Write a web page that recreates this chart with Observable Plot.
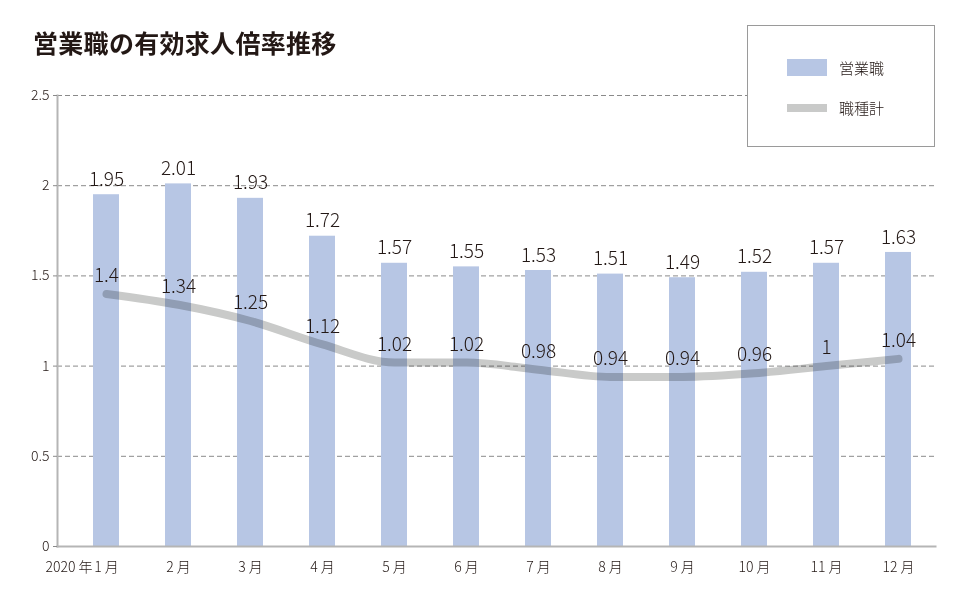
<!DOCTYPE html>
<html>
<head>
<meta charset="utf-8">
<script src="https://cdn.jsdelivr.net/npm/d3@7"></script>
<script src="https://cdn.jsdelivr.net/npm/@observablehq/plot@0.6"></script>
<style>
  html, body { margin: 0; padding: 0; background: #fff; }
  body { width: 960px; height: 600px; position: relative; overflow: hidden;
         font-family: "Noto Sans CJK JP", "Noto Sans", sans-serif; }
  #title { position: absolute; left: 33px; top: 26px; font-size: 25px; font-weight: 700;
           color: #231815; letter-spacing: 0.3px; line-height: 32px; }
  #legend { position: absolute; left: 747px; top: 25px; width: 188px; height: 122px;
            border: 1px solid #9a9a9a; background: #fff; box-sizing: border-box; }
  .sw { position: absolute; left: 39px; width: 40px; }
  .lt { position: absolute; left: 91px; font-size: 15px; color: #231815; line-height: 20px; font-weight: 300; }
  #chart { position: absolute; left: 0; top: 0; }
</style>
</head>
<body>
<div id="chart"></div>
<div id="title">営業職の有効求人倍率推移</div>
<div id="legend">
  <div class="sw" style="top:33px;height:17px;background:#b7c6e4;"></div>
  <div class="lt" style="top:32px;">営業職</div>
  <div class="sw" style="top:78px;height:8px;background:#c9cac9;"></div>
  <div class="lt" style="top:72px;">職種計</div>
</div>
<script>
const months = ["1月","2月","3月","4月","5月","6月","7月","8月","9月","10月","11月","12月"];
const monthLabels = ["1 月","2 月","3 月","4 月","5 月","6 月","7 月","8 月","9 月","10 月","11 月","12 月"];
const salesValues = [1.95, 2.01, 1.93, 1.72, 1.57, 1.55, 1.53, 1.51, 1.49, 1.52, 1.57, 1.63];
const allJobsValues = [1.4, 1.34, 1.25, 1.12, 1.02, 1.02, 0.98, 0.94, 0.94, 0.96, 1, 1.04];
const yTicks = [0, 0.5, 1, 1.5, 2, 2.5];
const yearLabel = "2020 年";

const sales = months.map((m, i) => ({month: m, value: salesValues[i]}));
const allJobs = months.map((m, i) => ({month: m, value: allJobsValues[i]}));
const xlabels = months.map((m, i) => ({month: m, label: monthLabels[i]}));

const fmt = d => String(d);
const font = "'Noto Sans CJK JP', 'Noto Sans', sans-serif";

const chart = Plot.plot({
  width: 960,
  height: 600,
  marginLeft: 57,
  marginRight: 25,
  marginTop: 95,
  marginBottom: 54,
  style: {fontFamily: font, background: "transparent", overflow: "visible"},
  x: {domain: months, range: [70, 934], paddingInner: 0.64, paddingOuter: 0.32, axis: null},
  y: {domain: [0, 2.5], axis: null},
  marks: [
    Plot.ruleY(yTicks.filter(d => d > 0), {stroke: "#8a8a8a", strokeWidth: 1, strokeDasharray: "5,3"}),
    Plot.barY(sales, {x: "month", y: "value", fill: "#b7c6e4"}),
    Plot.line(allJobs, {x: "month", y: "value", stroke: "#c9cac9", strokeWidth: 8,
      curve: "monotone-x", mixBlendMode: "multiply"}),
    Plot.text(sales, {x: "month", y: "value", text: d => fmt(d.value), dy: -15,
      fontSize: 19, fontWeight: 300, fill: "#231815"}),
    Plot.text(allJobs, {x: "month", y: "value", text: d => fmt(d.value), dy: -18,
      fontSize: 19, fontWeight: 300, fill: "#231815"}),
    Plot.frame({anchor: "left", stroke: "#b5b5b5", strokeWidth: 2}),
    Plot.frame({anchor: "bottom", stroke: "#b5b5b5", strokeWidth: 2}),
    Plot.axisY({ticks: yTicks, tickFormat: fmt, tickSize: 4, tickPadding: 4, fontSize: 14,
      fontWeight: 300, label: null, stroke: "#8a8a8a", fill: "#231815"}),
    Plot.text(xlabels, {x: "month", frameAnchor: "bottom", text: "label", dy: 25,
      fontSize: 14, fontWeight: 300, fill: "#231815"}),
    Plot.text([months[0]], {x: d => d, frameAnchor: "bottom", text: () => yearLabel,
      dy: 25, dx: -14, textAnchor: "end", fontSize: 14, fontWeight: 300, fill: "#231815"})
  ]
});
document.getElementById("chart").appendChild(chart);
</script>
</body>
</html>
